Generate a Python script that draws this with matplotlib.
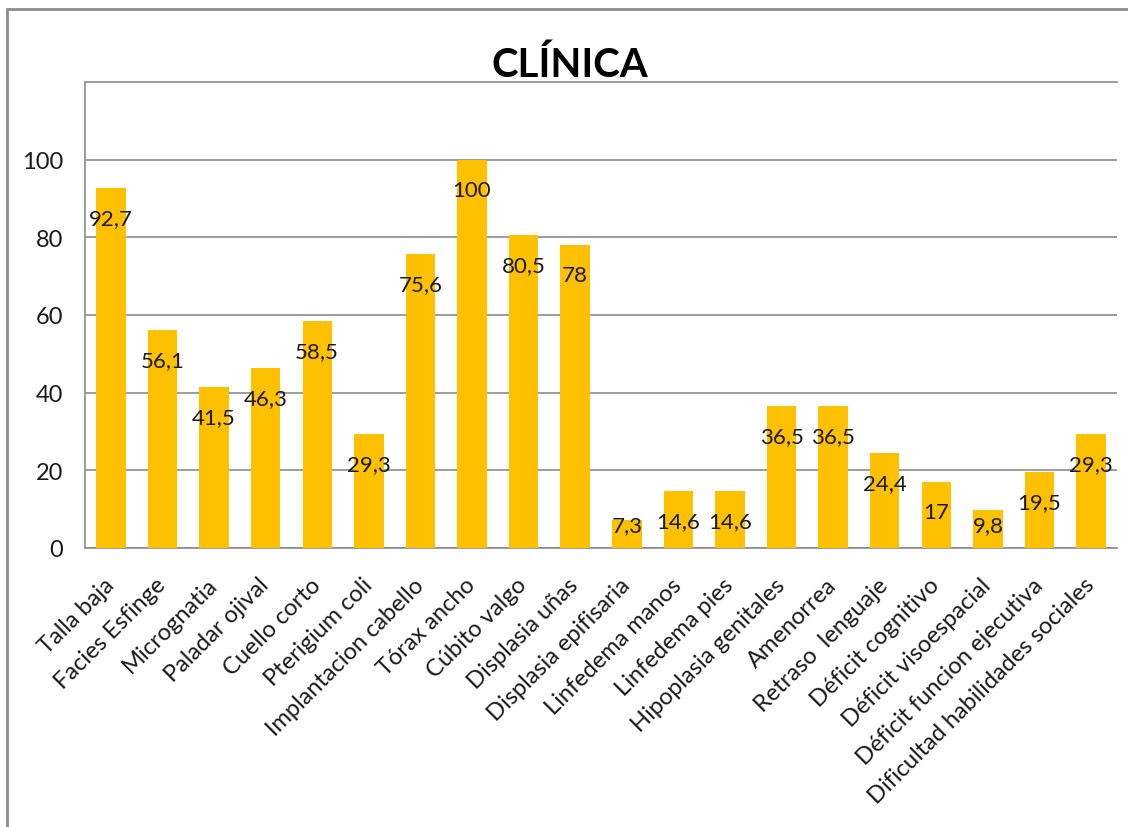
import numpy as np
import matplotlib.pyplot as plt
from matplotlib.patches import Rectangle

plt.rcParams['font.family'] = ['Lato', 'DejaVu Sans']

categorias = ['Talla baja', 'Facies Esfinge', 'Micrognatia', 'Paladar ojival',
              'Cuello corto', 'Pterigium coli', 'Implantacion cabello',
              'Tórax ancho', 'Cúbito valgo', 'Displasia uñas',
              'Displasia epifisaria', 'Linfedema manos', 'Linfedema pies',
              'Hipoplasia genitales', 'Amenorrea', 'Retraso  lenguaje',
              'Déficit cognitivo', 'Déficit visoespacial',
              'Déficit funcion ejecutiva', 'Dificultad habilidades sociales']
valores = [92.7, 56.1, 41.5, 46.3, 58.5, 29.3, 75.6, 100, 80.5, 78,
           7.3, 14.6, 14.6, 36.5, 36.5, 24.4, 17, 9.8, 19.5, 29.3]
etiquetas = ['92,7', '56,1', '41,5', '46,3', '58,5', '29,3', '75,6', '100',
             '80,5', '78', '7,3', '14,6', '14,6', '36,5', '36,5', '24,4',
             '17', '9,8', '19,5', '29,3']

fig = plt.figure(figsize=(11.28, 8.28), dpi=100)
ax = fig.add_axes([0.0754, 0.337, 0.9148, 0.5628])

# marco gris del grafico
fig.patches.append(Rectangle((7 / 1128, -0.05), 1.1, 1 - 10 / 828 + 0.05,
                             transform=fig.transFigure, fill=False,
                             edgecolor='#8c8c8c', linewidth=2))

x = np.arange(len(valores))
ax.bar(x, valores, width=0.57, color='#FFC000', zorder=3)

for xi, v, t in zip(x, valores, etiquetas):
    ax.text(xi, max(v - 7.7, 6.0), t, ha='center', va='center',
            fontsize=16, color='#1a1a1a', zorder=4)

ax.set_xlim(-0.5, len(valores) - 0.5)
ax.set_ylim(0, 120)
ax.set_yticks(np.arange(0, 101, 20))
ax.yaxis.grid(True, color='#8c8c8c', linewidth=1.2, zorder=0)
ax.tick_params(axis='y', length=0, pad=16, labelsize=17, labelcolor='#1a1a1a')
ax.tick_params(axis='x', length=0, pad=24)
ax.set_xticks(x)
ax.set_xticklabels(categorias, rotation=45, ha='right', va='center',
                   rotation_mode='anchor', fontsize=17, color='#1a1a1a')

for lado in ['left', 'bottom', 'top']:
    ax.spines[lado].set_color('#8c8c8c')
    ax.spines[lado].set_linewidth(1.2)
ax.spines['right'].set_visible(False)

fig.text(0.505, 0.907, 'CLÍNICA', ha='center', va='baseline',
         fontsize=29, fontweight='bold', color='black')

fig.savefig('out.png', dpi=100)
